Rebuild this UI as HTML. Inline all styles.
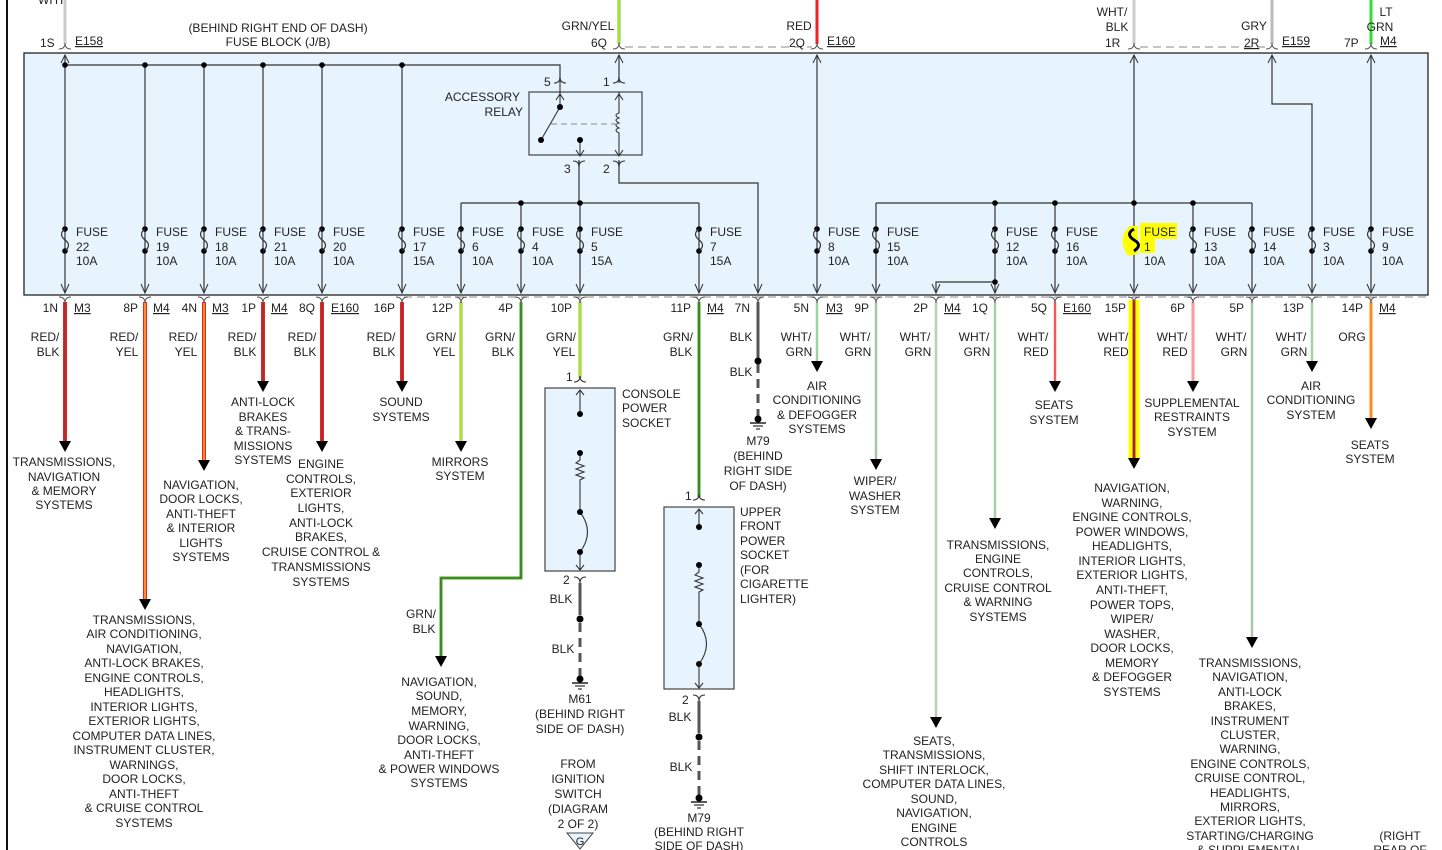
<!DOCTYPE html>
<html><head><meta charset="utf-8"><style>
html,body{margin:0;padding:0;background:#fff;}
svg{display:block;}
text{font-family:"Liberation Sans",sans-serif;font-size:12px;fill:#222;}
.m{text-anchor:middle;}
.e{text-anchor:end;}
.u{text-decoration:underline;}
</style></head><body>
<svg width="1442" height="850" viewBox="0 0 1442 850" xmlns="http://www.w3.org/2000/svg">
<defs>
<g id="fz"><circle cx="0" cy="229" r="2.8" fill="#000"/><circle cx="0" cy="251" r="2.8" fill="#000"/><path d="M0 229 q-7 5 0 11 q7 5 0 11" fill="none" stroke="#333" stroke-width="1.2"/></g>
<g id="ah"><path d="M-4 284 L0 293 L4 284" fill="none" stroke="#333" stroke-width="1"/></g>
<g id="ahu"><path d="M-4 63 L0 55 L4 63" fill="none" stroke="#333" stroke-width="1"/></g>
<g id="cb"><path d="M-6 297 q6 0 6 6 q0 -6 6 -6" fill="none" stroke="#555" stroke-width="1"/></g>
<g id="ct"><path d="M-6 49 q6 0 6 -6 q0 6 6 6" fill="none" stroke="#555" stroke-width="1"/></g>
<g id="tri"><path d="M-6 0 L6 0 L0 11 Z" fill="#000"/></g>
<g id="gnd"><circle cx="0" cy="0" r="3.5" fill="#000"/><line x1="-8" y1="4" x2="8" y2="4" stroke="#000" stroke-width="1.3"/><line x1="-5" y1="7" x2="5" y2="7" stroke="#000"/><line x1="-2" y1="10" x2="2" y2="10" stroke="#000"/></g>
</defs>

<line x1="7" y1="0" x2="7" y2="850" stroke="#111" stroke-width="2"/>

<!-- top wires -->
<line x1="65" y1="0" x2="65" y2="44" stroke="#ccc" stroke-width="3"/>
<line x1="619" y1="0" x2="619" y2="44" stroke="#6c3" stroke-width="3"/><line x1="619" y1="0" x2="619" y2="44" stroke="#ee2" stroke-width="1"/>
<line x1="817" y1="0" x2="817" y2="44" stroke="#e22" stroke-width="3"/>
<line x1="1134" y1="0" x2="1134" y2="44" stroke="#ccc" stroke-width="3"/>
<line x1="1272" y1="0" x2="1272" y2="44" stroke="#bbb" stroke-width="3"/>
<line x1="1371" y1="0" x2="1371" y2="44" stroke="#3d3" stroke-width="3"/>
<path d="M625 47 H812 M1140 47 H1266" stroke="#888" stroke-dasharray="8,5" fill="none"/>
<path d="M404 297 H1430" stroke="#888" stroke-dasharray="8,5" fill="none"/>

<!-- fuse block -->
<rect x="24" y="53" width="1404" height="242" fill="#e8f4fd" stroke="#222" stroke-width="1.3"/>

<g stroke="#333" stroke-width="1.2" fill="none">
<path d="M65 55 V293 M65 65 H560 V83"/>
<path d="M145 65 V293 M204 65 V293 M263 65 V293 M322 65 V293 M402 65 V293"/>
<path d="M619 55 V83 M619 160 V183 H758 V293"/>
<path d="M579 160 V203 M461 203 H699 M461 203 V293 M521 203 V293 M580 203 V293 M699 203 V293"/>
<path d="M817 55 V293"/>
<path d="M1134 55 V293 M876 203 H1193 M876 203 V293 M995 203 V293 M1055 203 V293 M1193 203 V293 M995 282 H936 V293"/>
<path d="M1272 55 V104 H1312 V293 M1252 203 V293 M1193 203 H1252"/>
<path d="M1371 55 V293"/>
</g>
<g fill="#000">
<circle cx="65" cy="65" r="2.8"/><circle cx="145" cy="65" r="2.8"/><circle cx="204" cy="65" r="2.8"/><circle cx="263" cy="65" r="2.8"/><circle cx="322" cy="65" r="2.8"/><circle cx="402" cy="65" r="2.8"/>
<circle cx="521" cy="203" r="2.8"/><circle cx="580" cy="203" r="2.8"/>
<circle cx="995" cy="203" r="2.8"/><circle cx="1055" cy="203" r="2.8"/><circle cx="1134" cy="203" r="2.8"/><circle cx="1193" cy="203" r="2.8"/><circle cx="995" cy="282" r="2.8"/>
</g>

<!-- relay -->
<rect x="529" y="92" width="113" height="63" fill="#e8f4fd" stroke="#444" stroke-width="1.2"/>
<g stroke="#333" fill="none" stroke-width="1.1">
<path d="M560 83 V107 M560 107 L541 140"/>
<path d="M580 141 V155"/>
<path d="M619 92 V113 q-6 2 0 5 q-6 2 0 5 q-6 2 0 5 q-6 2 0 5 V155"/>
<path d="M551 124 H619" stroke="#888" stroke-dasharray="6,4"/>
<path d="M556 100 L560 94 L564 100 M615 100 L619 94 L623 100 M576 150 L580 156 L584 150 M615 150 L619 156 L623 150"/>
<path d="M554 83 q6 0 6 -6 q0 6 6 6 M613 83 q6 0 6 -6 q0 6 6 6 M573 161 q6 0 6 6 q0 -6 6 -6 M613 161 q6 0 6 6 q0 -6 6 -6"/>
</g>
<circle cx="560" cy="107" r="3" fill="#000"/><circle cx="541" cy="140" r="3" fill="#000"/><circle cx="580" cy="140" r="3" fill="#000"/>
<text class="e" x="520" y="101">ACCESSORY</text><text class="e" x="523" y="116">RELAY</text>
<text x="544" y="86">5</text><text x="603" y="86">1</text><text x="564" y="173">3</text><text x="603" y="173">2</text>

<!-- fuse highlight -->
<path d="M1130 226 q-14 12 -2 30 l10 -2 l0 -28 Z" fill="#ff0"/>
<rect x="1140" y="223" width="37" height="16" fill="#ff0"/>
<rect x="1140" y="239" width="15" height="14" fill="#ff0"/>

<!-- fuses -->
<g>
<use href="#fz" x="65"/><use href="#fz" x="145"/><use href="#fz" x="204"/><use href="#fz" x="263"/><use href="#fz" x="322"/><use href="#fz" x="402"/><use href="#fz" x="461"/><use href="#fz" x="521"/><use href="#fz" x="580"/><use href="#fz" x="699"/><use href="#fz" x="817"/><use href="#fz" x="876"/><use href="#fz" x="995"/><use href="#fz" x="1055"/><use href="#fz" x="1193"/><use href="#fz" x="1252"/><use href="#fz" x="1312"/><use href="#fz" x="1371"/>
</g>
<path d="M1134 229 q-9 5 0 11 q9 5 0 11" fill="none" stroke="#000" stroke-width="3"/>
<g>
<use href="#ah" x="65"/><use href="#ah" x="145"/><use href="#ah" x="204"/><use href="#ah" x="263"/><use href="#ah" x="322"/><use href="#ah" x="402"/><use href="#ah" x="461"/><use href="#ah" x="521"/><use href="#ah" x="580"/><use href="#ah" x="699"/><use href="#ah" x="758"/><use href="#ah" x="817"/><use href="#ah" x="876"/><use href="#ah" x="936"/><use href="#ah" x="995"/><use href="#ah" x="1055"/><use href="#ah" x="1134"/><use href="#ah" x="1193"/><use href="#ah" x="1252"/><use href="#ah" x="1312"/><use href="#ah" x="1371"/>
<use href="#ahu" x="65"/><use href="#ahu" x="619"/><use href="#ahu" x="817"/><use href="#ahu" x="1134"/><use href="#ahu" x="1272"/><use href="#ahu" x="1371"/>
<use href="#ct" x="65"/><use href="#ct" x="619"/><use href="#ct" x="817"/><use href="#ct" x="1134"/><use href="#ct" x="1272"/><use href="#ct" x="1371"/>
</g>
<g>
<text x="76" y="236">FUSE</text><text x="76" y="251">22</text><text x="76" y="265">10A</text>
<text x="156" y="236">FUSE</text><text x="156" y="251">19</text><text x="156" y="265">10A</text>
<text x="215" y="236">FUSE</text><text x="215" y="251">18</text><text x="215" y="265">10A</text>
<text x="274" y="236">FUSE</text><text x="274" y="251">21</text><text x="274" y="265">10A</text>
<text x="333" y="236">FUSE</text><text x="333" y="251">20</text><text x="333" y="265">10A</text>
<text x="413" y="236">FUSE</text><text x="413" y="251">17</text><text x="413" y="265">15A</text>
<text x="472" y="236">FUSE</text><text x="472" y="251">6</text><text x="472" y="265">10A</text>
<text x="532" y="236">FUSE</text><text x="532" y="251">4</text><text x="532" y="265">10A</text>
<text x="591" y="236">FUSE</text><text x="591" y="251">5</text><text x="591" y="265">15A</text>
<text x="710" y="236">FUSE</text><text x="710" y="251">7</text><text x="710" y="265">15A</text>
<text x="828" y="236">FUSE</text><text x="828" y="251">8</text><text x="828" y="265">10A</text>
<text x="887" y="236">FUSE</text><text x="887" y="251">15</text><text x="887" y="265">10A</text>
<text x="1006" y="236">FUSE</text><text x="1006" y="251">12</text><text x="1006" y="265">10A</text>
<text x="1066" y="236">FUSE</text><text x="1066" y="251">16</text><text x="1066" y="265">10A</text>
<text x="1144" y="236">FUSE</text><text x="1144" y="251">1</text><text x="1144" y="265">10A</text>
<text x="1204" y="236">FUSE</text><text x="1204" y="251">13</text><text x="1204" y="265">10A</text>
<text x="1263" y="236">FUSE</text><text x="1263" y="251">14</text><text x="1263" y="265">10A</text>
<text x="1323" y="236">FUSE</text><text x="1323" y="251">3</text><text x="1323" y="265">10A</text>
<text x="1382" y="236">FUSE</text><text x="1382" y="251">9</text><text x="1382" y="265">10A</text>
</g>

<!-- top labels -->
<text x="38" y="4">WHT</text>
<text class="m" x="278" y="32">(BEHIND RIGHT END OF DASH)</text>
<text class="m" x="278" y="46">FUSE BLOCK (J/B)</text>
<text x="40" y="47">1S</text><text class="u" x="75" y="45">E158</text>
<text class="m" x="588" y="30">GRN/YEL</text><text x="591" y="47">6Q</text>
<text class="m" x="799" y="30">RED</text><text x="789" y="47">2Q</text><text class="u" x="827" y="45">E160</text>
<text class="m" x="1112" y="16">WHT/</text><text class="m" x="1117" y="31">BLK</text><text x="1105" y="47">1R</text>
<text class="m" x="1254" y="30">GRY</text><text class="u" x="1244" y="47">2R</text><text class="u" x="1282" y="45">E159</text>
<text class="m" x="1386" y="16">LT</text><text class="m" x="1380" y="31">GRN</text><text x="1344" y="47">7P</text><text class="u" x="1380" y="45">M4</text>

<!-- bottom wires -->
<g stroke-linecap="butt" fill="none">
<path d="M65 302 V441" stroke="#e22" stroke-width="4"/><path d="M65 302 V441" stroke="#444" stroke-width="0.8"/>
<path d="M145 302 V599" stroke="#e22" stroke-width="4"/><path d="M145 302 V599" stroke="#ff3" stroke-width="1"/>
<path d="M204 302 V460" stroke="#e22" stroke-width="4"/><path d="M204 302 V460" stroke="#ff3" stroke-width="1"/>
<path d="M263 302 V381" stroke="#e22" stroke-width="4"/><path d="M263 302 V381" stroke="#444" stroke-width="0.8"/>
<path d="M322 302 V441" stroke="#e22" stroke-width="4"/><path d="M322 302 V441" stroke="#444" stroke-width="0.8"/>
<path d="M402 302 V381" stroke="#e22" stroke-width="4"/><path d="M402 302 V381" stroke="#444" stroke-width="0.8"/>
<path d="M461 302 V441" stroke="#7c2" stroke-width="3"/><path d="M461 302 V441" stroke="#ee4" stroke-width="1"/>
<path d="M521 302 V578 H441 V656" stroke="#4a2" stroke-width="3"/><path d="M521 302 V578 H441 V656" stroke="#333" stroke-width="0.6"/>
<path d="M580 302 V378" stroke="#7c2" stroke-width="3"/><path d="M580 302 V378" stroke="#ee4" stroke-width="1"/>
<path d="M699 302 V497" stroke="#4a2" stroke-width="3"/><path d="M699 302 V497" stroke="#333" stroke-width="0.6"/>
<path d="M758 302 V358" stroke="#555" stroke-width="3"/><path d="M758 364 V416" stroke="#555" stroke-width="3" stroke-dasharray="9,6"/>
<path d="M817 302 V361" stroke="#ddd" stroke-width="3"/><path d="M817 302 V361" stroke="#5c5" stroke-width="1"/>
<path d="M876 302 V459" stroke="#ddd" stroke-width="3"/><path d="M876 302 V459" stroke="#5b5" stroke-width="1"/>
<path d="M936 302 V717" stroke="#ddd" stroke-width="3"/><path d="M936 302 V717" stroke="#8c8" stroke-width="1"/>
<path d="M995 302 V518" stroke="#ddd" stroke-width="3"/><path d="M995 302 V518" stroke="#6c6" stroke-width="1"/>
<path d="M1055 302 V381" stroke="#fbb" stroke-width="3"/><path d="M1055 302 V381" stroke="#e22" stroke-width="1.3"/>
<path d="M1134 300 V458" stroke="#ff0" stroke-width="11"/><path d="M1134 300 V458" stroke="#e22" stroke-width="3"/><path d="M1134 300 V458" stroke="#333" stroke-width="1"/>
<path d="M1193 302 V381" stroke="#f99" stroke-width="3"/>
<path d="M1252 302 V637" stroke="#ddd" stroke-width="3"/><path d="M1252 302 V637" stroke="#6b6" stroke-width="1"/>
<path d="M1312 302 V361" stroke="#ddd" stroke-width="3"/><path d="M1312 302 V361" stroke="#6c6" stroke-width="1"/>
<path d="M1371 302 V418" stroke="#f82" stroke-width="3"/>
</g>
<g>
<use href="#cb" x="65"/><use href="#cb" x="145"/><use href="#cb" x="204"/><use href="#cb" x="263"/><use href="#cb" x="322"/><use href="#cb" x="402"/><use href="#cb" x="461"/><use href="#cb" x="521"/><use href="#cb" x="580"/><use href="#cb" x="699"/><use href="#cb" x="758"/><use href="#cb" x="817"/><use href="#cb" x="876"/><use href="#cb" x="936"/><use href="#cb" x="995"/><use href="#cb" x="1055"/><use href="#cb" x="1134"/><use href="#cb" x="1193"/><use href="#cb" x="1252"/><use href="#cb" x="1312"/><use href="#cb" x="1371"/>
<use href="#tri" x="65" y="441"/><use href="#tri" x="145" y="599"/><use href="#tri" x="204" y="460"/><use href="#tri" x="263" y="381"/><use href="#tri" x="322" y="441"/><use href="#tri" x="402" y="381"/><use href="#tri" x="461" y="441"/><use href="#tri" x="441" y="656"/><use href="#tri" x="817" y="361"/><use href="#tri" x="876" y="459"/><use href="#tri" x="936" y="717"/><use href="#tri" x="995" y="518"/><use href="#tri" x="1055" y="381"/><use href="#tri" x="1134" y="458"/><use href="#tri" x="1193" y="381"/><use href="#tri" x="1252" y="637"/><use href="#tri" x="1312" y="361"/><use href="#tri" x="1371" y="418"/>
</g>

<!-- pin labels -->
<g>
<text class="e" x="58" y="312">1N</text><text class="u" x="74" y="312">M3</text>
<text class="e" x="138" y="312">8P</text><text class="u" x="153" y="312">M4</text>
<text class="e" x="197" y="312">4N</text><text class="u" x="212" y="312">M3</text>
<text class="e" x="256" y="312">1P</text><text class="u" x="271" y="312">M4</text>
<text class="e" x="315" y="312">8Q</text><text class="u" x="331" y="312">E160</text>
<text class="e" x="395" y="312">16P</text>
<text class="e" x="453" y="312">12P</text>
<text class="e" x="513" y="312">4P</text>
<text class="e" x="572" y="312">10P</text>
<text class="e" x="691" y="312">11P</text><text class="u" x="707" y="312">M4</text>
<text class="e" x="750" y="312">7N</text>
<text class="e" x="809" y="312">5N</text><text class="u" x="826" y="312">M3</text>
<text class="e" x="869" y="312">9P</text>
<text class="e" x="928" y="312">2P</text><text class="u" x="944" y="312">M4</text>
<text class="e" x="988" y="312">1Q</text>
<text class="e" x="1047" y="312">5Q</text><text class="u" x="1063" y="312">E160</text>
<text class="e" x="1126" y="312">15P</text>
<text class="e" x="1185" y="312">6P</text>
<text class="e" x="1244" y="312">5P</text>
<text class="e" x="1304" y="312">13P</text>
<text class="e" x="1363" y="312">14P</text><text class="u" x="1379" y="312">M4</text>
</g>

<!-- wire colour labels -->
<g>
<text class="m" x="45" y="341">RED/</text><text class="m" x="48" y="356">BLK</text>
<text class="m" x="124" y="341">RED/</text><text class="m" x="127" y="356">YEL</text>
<text class="m" x="183" y="341">RED/</text><text class="m" x="186" y="356">YEL</text>
<text class="m" x="242" y="341">RED/</text><text class="m" x="245" y="356">BLK</text>
<text class="m" x="302" y="341">RED/</text><text class="m" x="305" y="356">BLK</text>
<text class="m" x="381" y="341">RED/</text><text class="m" x="384" y="356">BLK</text>
<text class="m" x="441" y="341">GRN/</text><text class="m" x="444" y="356">YEL</text>
<text class="m" x="500" y="341">GRN/</text><text class="m" x="503" y="356">BLK</text>
<text class="m" x="561" y="341">GRN/</text><text class="m" x="564" y="356">YEL</text>
<text class="m" x="678" y="341">GRN/</text><text class="m" x="681" y="356">BLK</text>
<text class="m" x="741" y="341">BLK</text><text class="m" x="741" y="376">BLK</text>
<text class="m" x="796" y="341">WHT/</text><text class="m" x="799" y="356">GRN</text>
<text class="m" x="855" y="341">WHT/</text><text class="m" x="858" y="356">GRN</text>
<text class="m" x="915" y="341">WHT/</text><text class="m" x="918" y="356">GRN</text>
<text class="m" x="974" y="341">WHT/</text><text class="m" x="977" y="356">GRN</text>
<text class="m" x="1033" y="341">WHT/</text><text class="m" x="1036" y="356">RED</text>
<text class="m" x="1113" y="341">WHT/</text><text class="m" x="1116" y="356">RED</text>
<text class="m" x="1172" y="341">WHT/</text><text class="m" x="1175" y="356">RED</text>
<text class="m" x="1231" y="341">WHT/</text><text class="m" x="1234" y="356">GRN</text>
<text class="m" x="1291" y="341">WHT/</text><text class="m" x="1294" y="356">GRN</text>
<text class="m" x="1352" y="341">ORG</text>
<text class="m" x="421" y="618">GRN/</text><text class="m" x="424" y="633">BLK</text>
</g>

<!-- console socket -->
<rect x="545" y="388" width="70" height="183" fill="#e8f4fd" stroke="#444" stroke-width="1.2"/>
<g stroke="#333" fill="none" stroke-width="1.1">
<path d="M574 382 q6 0 6 -6 q0 6 6 6 M574 577 q6 0 6 6 q0 -6 6 -6"/>
<path d="M580 390 V414 M580 453 V460 l-4 3 l8 3 l-8 3 l8 3 l-8 3 l8 3 l-4 2 V512 M580 512 q15 20 0 40 V569 M576 395 L580 390 L584 395 M576 565 L580 570 L584 565"/>
</g>
<circle cx="580" cy="414" r="3" fill="#000"/><circle cx="580" cy="453" r="3" fill="#000"/><circle cx="580" cy="512" r="3" fill="#000"/><circle cx="580" cy="552" r="3" fill="#000"/>
<text x="566" y="381">1</text><text x="563" y="584">2</text>
<text x="622" y="398">CONSOLE</text><text x="622" y="412">POWER</text><text x="622" y="427">SOCKET</text>
<path d="M580 583 V615" stroke="#555" stroke-width="3"/><path d="M580 623 V676" stroke="#555" stroke-width="3" stroke-dasharray="9,6"/>
<circle cx="580" cy="619" r="3.5" fill="#000"/>
<use href="#gnd" x="580" y="679"/>
<text class="m" x="561" y="603">BLK</text><text class="m" x="563" y="653">BLK</text>
<text class="m" x="580" y="703">M61</text><text class="m" x="580" y="718">(BEHIND RIGHT</text><text class="m" x="580" y="733">SIDE OF DASH)</text>
<text class="m" x="578" y="768">FROM</text><text class="m" x="578" y="783">IGNITION</text><text class="m" x="578" y="798">SWITCH</text><text class="m" x="578" y="813">(DIAGRAM</text><text class="m" x="578" y="828">2 OF 2)</text>
<path d="M567 833 H593 L580 849 Z" fill="#e8f4fd" stroke="#444"/><text class="m" x="580" y="845" style="font-size:11px">G</text>

<!-- upper front socket -->
<rect x="664" y="507" width="70" height="182" fill="#e8f4fd" stroke="#444" stroke-width="1.2"/>
<g stroke="#333" fill="none" stroke-width="1.1">
<path d="M693 500 q6 0 6 -6 q0 6 6 6 M693 695 q6 0 6 6 q0 -6 6 -6"/>
<path d="M699 509 V527 M699 565 V572 l-4 3 l8 3 l-8 3 l8 3 l-8 3 l8 3 l-4 2 V624 M699 624 q15 20 0 40 V687 M695 514 L699 509 L703 514 M695 683 L699 688 L703 683"/>
</g>
<circle cx="699" cy="527" r="3" fill="#000"/><circle cx="699" cy="565" r="3" fill="#000"/><circle cx="699" cy="624" r="3" fill="#000"/><circle cx="699" cy="664" r="3" fill="#000"/>
<text x="685" y="500">1</text><text x="682" y="704">2</text>
<text x="740" y="516">UPPER</text><text x="740" y="530">FRONT</text><text x="740" y="545">POWER</text><text x="740" y="559">SOCKET</text><text x="740" y="574">(FOR</text><text x="740" y="588">CIGARETTE</text><text x="740" y="603">LIGHTER)</text>
<path d="M699 701 V733" stroke="#555" stroke-width="3"/><path d="M699 741 V795" stroke="#555" stroke-width="3" stroke-dasharray="9,6"/>
<circle cx="699" cy="737" r="3.5" fill="#000"/>
<use href="#gnd" x="699" y="798"/>
<text class="m" x="680" y="721">BLK</text><text class="m" x="681" y="771">BLK</text>
<text class="m" x="699" y="822">M79</text><text class="m" x="699" y="836">(BEHIND RIGHT</text><text class="m" x="699" y="850">SIDE OF DASH)</text>

<!-- 7N ground -->
<circle cx="758" cy="361" r="3.5" fill="#000"/>
<use href="#gnd" x="758" y="419"/>
<text class="m" x="758" y="445">M79</text><text class="m" x="758" y="460">(BEHIND</text><text class="m" x="758" y="475">RIGHT SIDE</text><text class="m" x="758" y="490">OF DASH)</text>

<!-- destinations -->
<g>
<text class="m" x="64" y="466">TRANSMISSIONS,</text><text class="m" x="64" y="481">NAVIGATION</text><text class="m" x="64" y="495">&amp; MEMORY</text><text class="m" x="64" y="509">SYSTEMS</text>

<text class="m" x="144" y="624">TRANSMISSIONS,</text><text class="m" x="144" y="638">AIR CONDITIONING,</text><text class="m" x="144" y="653">NAVIGATION,</text><text class="m" x="144" y="667">ANTI-LOCK BRAKES,</text><text class="m" x="144" y="682">ENGINE CONTROLS,</text><text class="m" x="144" y="696">HEADLIGHTS,</text><text class="m" x="144" y="711">INTERIOR LIGHTS,</text><text class="m" x="144" y="725">EXTERIOR LIGHTS,</text><text class="m" x="144" y="740">COMPUTER DATA LINES,</text><text class="m" x="144" y="754">INSTRUMENT CLUSTER,</text><text class="m" x="144" y="769">WARNINGS,</text><text class="m" x="144" y="783">DOOR LOCKS,</text><text class="m" x="144" y="798">ANTI-THEFT</text><text class="m" x="144" y="812">&amp; CRUISE CONTROL</text><text class="m" x="144" y="827">SYSTEMS</text>

<text class="m" x="201" y="489">NAVIGATION,</text><text class="m" x="201" y="503">DOOR LOCKS,</text><text class="m" x="201" y="518">ANTI-THEFT</text><text class="m" x="201" y="532">&amp; INTERIOR</text><text class="m" x="201" y="547">LIGHTS</text><text class="m" x="201" y="561">SYSTEMS</text>

<text class="m" x="263" y="406">ANTI-LOCK</text><text class="m" x="263" y="421">BRAKES</text><text class="m" x="263" y="435">&amp; TRANS-</text><text class="m" x="263" y="450">MISSIONS</text><text class="m" x="263" y="464">SYSTEMS</text>

<text class="m" x="321" y="468">ENGINE</text><text class="m" x="321" y="483">CONTROLS,</text><text class="m" x="321" y="497">EXTERIOR</text><text class="m" x="321" y="512">LIGHTS,</text><text class="m" x="321" y="527">ANTI-LOCK</text><text class="m" x="321" y="541">BRAKES,</text><text class="m" x="321" y="556">CRUISE CONTROL &amp;</text><text class="m" x="321" y="571">TRANSMISSIONS</text><text class="m" x="321" y="586">SYSTEMS</text>

<text class="m" x="401" y="406">SOUND</text><text class="m" x="401" y="421">SYSTEMS</text>
<text class="m" x="460" y="466">MIRRORS</text><text class="m" x="460" y="480">SYSTEM</text>

<text class="m" x="439" y="686">NAVIGATION,</text><text class="m" x="439" y="700">SOUND,</text><text class="m" x="439" y="715">MEMORY,</text><text class="m" x="439" y="730">WARNING,</text><text class="m" x="439" y="744">DOOR LOCKS,</text><text class="m" x="439" y="759">ANTI-THEFT</text><text class="m" x="439" y="773">&amp; POWER WINDOWS</text><text class="m" x="439" y="787">SYSTEMS</text>

<text class="m" x="817" y="390">AIR</text><text class="m" x="817" y="404">CONDITIONING</text><text class="m" x="817" y="419">&amp; DEFOGGER</text><text class="m" x="817" y="433">SYSTEMS</text>

<text class="m" x="875" y="485">WIPER/</text><text class="m" x="875" y="500">WASHER</text><text class="m" x="875" y="514">SYSTEM</text>

<text class="m" x="934" y="745">SEATS,</text><text class="m" x="934" y="759">TRANSMISSIONS,</text><text class="m" x="934" y="774">SHIFT INTERLOCK,</text><text class="m" x="934" y="788">COMPUTER DATA LINES,</text><text class="m" x="934" y="803">SOUND,</text><text class="m" x="934" y="817">NAVIGATION,</text><text class="m" x="934" y="832">ENGINE</text><text class="m" x="934" y="846">CONTROLS</text>

<text class="m" x="998" y="549">TRANSMISSIONS,</text><text class="m" x="998" y="563">ENGINE</text><text class="m" x="998" y="577">CONTROLS,</text><text class="m" x="998" y="592">CRUISE CONTROL</text><text class="m" x="998" y="606">&amp; WARNING</text><text class="m" x="998" y="621">SYSTEMS</text>

<text class="m" x="1054" y="409">SEATS</text><text class="m" x="1054" y="424">SYSTEM</text>

<text class="m" x="1132" y="492">NAVIGATION,</text><text class="m" x="1132" y="507">WARNING,</text><text class="m" x="1132" y="521">ENGINE CONTROLS,</text><text class="m" x="1132" y="536">POWER WINDOWS,</text><text class="m" x="1132" y="550">HEADLIGHTS,</text><text class="m" x="1132" y="565">INTERIOR LIGHTS,</text><text class="m" x="1132" y="579">EXTERIOR LIGHTS,</text><text class="m" x="1132" y="594">ANTI-THEFT,</text><text class="m" x="1132" y="609">POWER TOPS,</text><text class="m" x="1132" y="623">WIPER/</text><text class="m" x="1132" y="638">WASHER,</text><text class="m" x="1132" y="652">DOOR LOCKS,</text><text class="m" x="1132" y="667">MEMORY</text><text class="m" x="1132" y="681">&amp; DEFOGGER</text><text class="m" x="1132" y="696">SYSTEMS</text>

<text class="m" x="1192" y="407">SUPPLEMENTAL</text><text class="m" x="1192" y="421">RESTRAINTS</text><text class="m" x="1192" y="436">SYSTEM</text>

<text class="m" x="1250" y="667">TRANSMISSIONS,</text><text class="m" x="1250" y="681">NAVIGATION,</text><text class="m" x="1250" y="696">ANTI-LOCK</text><text class="m" x="1250" y="710">BRAKES,</text><text class="m" x="1250" y="725">INSTRUMENT</text><text class="m" x="1250" y="739">CLUSTER,</text><text class="m" x="1250" y="753">WARNING,</text><text class="m" x="1250" y="768">ENGINE CONTROLS,</text><text class="m" x="1250" y="782">CRUISE CONTROL,</text><text class="m" x="1250" y="797">HEADLIGHTS,</text><text class="m" x="1250" y="811">MIRRORS,</text><text class="m" x="1250" y="825">EXTERIOR LIGHTS,</text><text class="m" x="1250" y="840">STARTING/CHARGING</text><text class="m" x="1250" y="854">&amp; SUPPLEMENTAL</text>

<text class="m" x="1311" y="390">AIR</text><text class="m" x="1311" y="404">CONDITIONING</text><text class="m" x="1311" y="419">SYSTEM</text>

<text class="m" x="1370" y="449">SEATS</text><text class="m" x="1370" y="463">SYSTEM</text>

<text class="m" x="1400" y="840">(RIGHT</text><text class="m" x="1400" y="854">REAR OF</text>
</g>
</svg>
</body></html>
